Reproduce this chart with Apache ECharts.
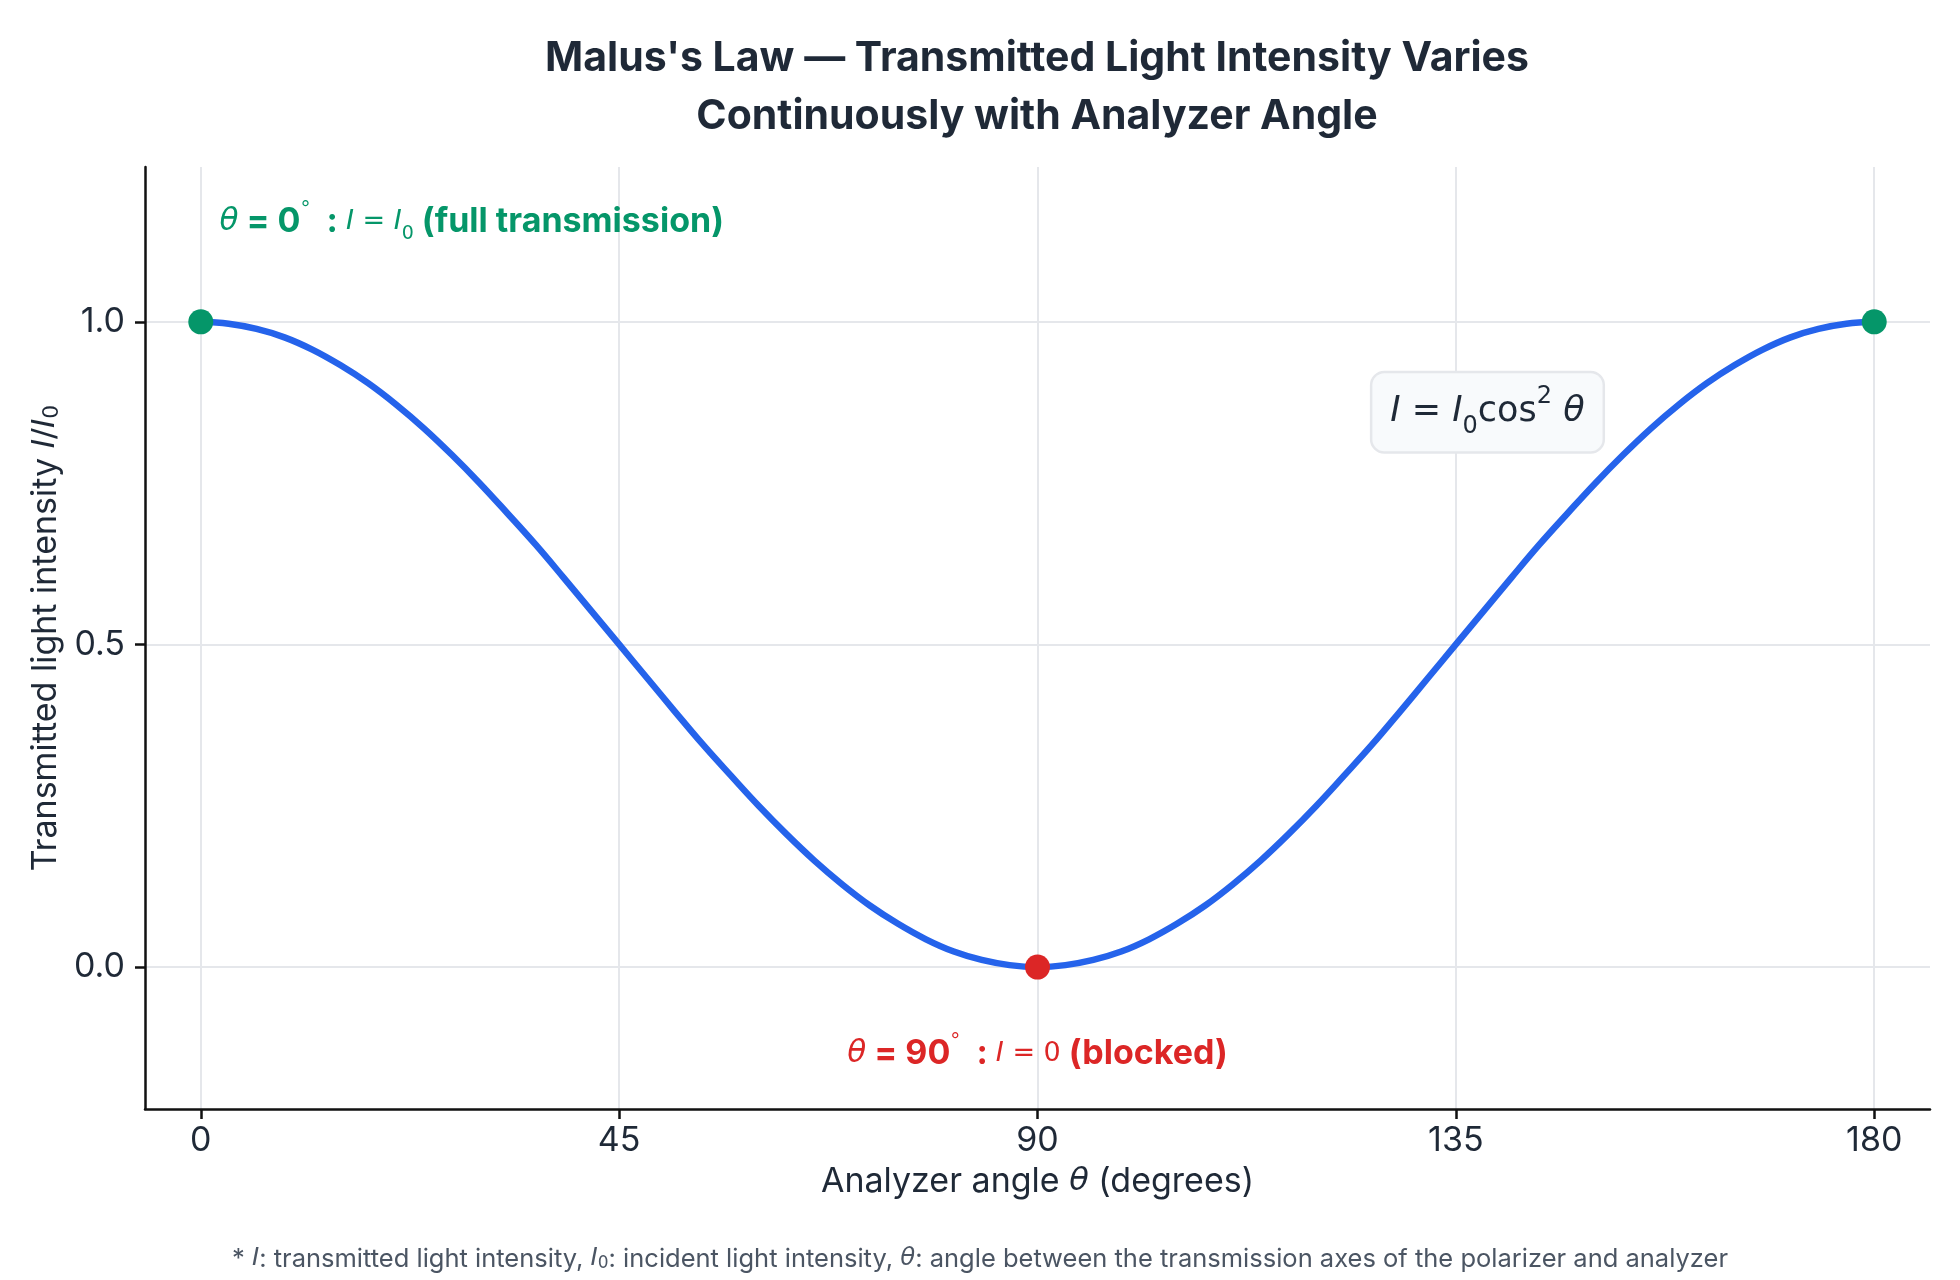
<!DOCTYPE html>
<html lang="en">
<head>
<meta charset="UTF-8">
<title>Malus's Law</title>
<script src="https://cdn.jsdelivr.net/npm/echarts@6.0.0/dist/echarts.min.js"></script>
<style>
	html,body{margin:0;height:100%;background:#fff;}
	#chart{width:1960px;height:1280px;}
</style>
</head>
<body>
<div id="chart"></div>
<script>
// values, every 3 degrees
var angles = [0,3,6,9,12,15,18,21,24,27,30,33,36,39,42,45,48,51,54,57,60,63,66,69,72,75,78,81,84,87,90,
	93,96,99,102,105,108,111,114,117,120,123,126,129,132,135,138,141,144,147,150,153,156,159,162,165,168,171,174,177,180];
var intensity = [1.000,0.997,0.989,0.976,0.957,0.933,0.905,0.872,0.835,0.794,0.750,0.703,0.655,0.604,0.552,0.500,
	0.448,0.396,0.345,0.297,0.250,0.206,0.165,0.128,0.095,0.067,0.043,0.024,0.011,0.003,0.000,
	0.003,0.011,0.024,0.043,0.067,0.095,0.128,0.165,0.206,0.250,0.297,0.345,0.396,0.448,0.500,
	0.552,0.604,0.655,0.703,0.750,0.794,0.835,0.872,0.905,0.933,0.957,0.976,0.989,0.997,1.000];

var xTicks = [0,45,90,135,180];
var yTicks = [0,0.5,1.0];

// highlighted points
var keyAngles = [0,90,180];
var keyValues = [1,0,1];
var keyColors = ['#059669','#dc2626','#059669'];

var TEXT = '#1f2937';
var GRID = '#e5e7eb';
var AXIS = '#111111';
var FONT = 'Inter, "Noto Sans", sans-serif';
var MATH = '"DejaVu Sans", sans-serif';

var curve = angles.map(function(a,i){ return [a, intensity[i]]; });
var keyPts = keyAngles.map(function(a,i){
	return {value:[a, keyValues[i]], itemStyle:{color:keyColors[i], opacity:1}};
});

var chart = echarts.init(document.getElementById('chart'));

var option = {
	animation:false,
	backgroundColor:'#fff',
	grid:{left:145, right:30, top:167, bottom:171, containLabel:false},
	xAxis:{
		type:'value', min:-6, max:186,
		name:'Analyzer angle {i|θ} (degrees)',
		nameLocation:'middle', nameGap:56,
		nameTextStyle:{fontFamily:FONT, fontSize:34, color:TEXT,
			rich:{i:{fontFamily:MATH, fontStyle:'italic', fontSize:32, color:TEXT}}},
		axisLine:{onZero:false, lineStyle:{color:AXIS, width:2.5}},
		axisTick:{show:true, length:10, customValues:xTicks, lineStyle:{color:AXIS, width:2.5}},
		axisLabel:{customValues:xTicks, fontFamily:FONT, fontSize:34, color:TEXT, margin:15},
		splitLine:{show:true, lineStyle:{color:GRID, width:2}}
	},
	yAxis:{
		type:'value', min:-0.22, max:1.24,
		name:'Transmitted light intensity {i|I}{n|/}{i|I}{sub|0}',
		nameLocation:'middle', nameGap:80, nameRotate:90,
		nameTextStyle:{fontFamily:FONT, fontSize:34, color:TEXT,
			rich:{
				i:{fontFamily:MATH, fontStyle:'italic', fontSize:32, color:TEXT},
				n:{fontFamily:MATH, fontSize:32, color:TEXT},
				sub:{fontFamily:MATH, fontSize:22, color:TEXT, verticalAlign:'bottom', lineHeight:30}
			}},
		axisLine:{show:true, onZero:false, lineStyle:{color:AXIS, width:2.5}},
		axisTick:{show:true, length:10, customValues:yTicks, lineStyle:{color:AXIS, width:2.5}},
		axisLabel:{customValues:yTicks, fontFamily:FONT, fontSize:34, color:TEXT, margin:20,
			formatter:function(v){ return v.toFixed(1); }},
		splitLine:{show:true, lineStyle:{color:GRID, width:2}}
	},
	series:[
		{
			type:'line', data:curve, smooth:0.4, symbol:'none', z:3,
			lineStyle:{color:'#2563eb', width:6.5, cap:'round', join:'round'}
		},
		{
			type:'scatter', data:keyPts, symbolSize:25, z:5
		}
	]
};
chart.setOption(option);

function px(x,y){ return chart.convertToPixel({gridIndex:0}, [x,y]); }

var pGreen = px(2.0, 1.155);
var pRed = px(90, -0.135);
var pBox = px(138.4, 0.86);

function noteRich(color){
	return {
		t:{fontFamily:MATH, fontStyle:'italic', fontSize:31, fill:color},
		b:{fontFamily:FONT, fontWeight:'bold', fontSize:34, fill:color},
		s:{fontFamily:MATH, fontSize:20, fill:color, verticalAlign:'top', lineHeight:44},
		mi:{fontFamily:MATH, fontStyle:'italic', fontSize:27, fill:color},
		m:{fontFamily:MATH, fontSize:27, fill:color},
		ms:{fontFamily:MATH, fontSize:19, fill:color, verticalAlign:'bottom', lineHeight:30}
	};
}

chart.setOption({
	graphic:[
		{
			type:'text', x:1037, y:88, silent:true,
			style:{
				text:"Malus's Law — Transmitted Light Intensity Varies\nContinuously with Analyzer Angle",
				fontFamily:FONT, fontSize:41, fontWeight:'bold', fill:TEXT,
				align:'center', verticalAlign:'middle', lineHeight:58
			}
		},
		{
			type:'text', x:pGreen[0], y:pGreen[1], silent:true,
			style:{
				text:'{t|θ}{b| = 0}{s|°}{b|  : }{mi|I}{m| = }{mi|I}{ms|0}{b| (full transmission)}',
				align:'left', verticalAlign:'middle',
				rich:noteRich('#059669')
			}
		},
		{
			type:'text', x:pRed[0], y:pRed[1], silent:true,
			style:{
				text:'{t|θ}{b| = 90}{s|°}{b|  : }{mi|I}{m| = 0}{b| (blocked)}',
				align:'center', verticalAlign:'middle',
				rich:noteRich('#dc2626')
			}
		},
		{
			type:'text', x:pBox[0], y:pBox[1], silent:true, z:10,
			style:{
				text:'{i|I} = {i|I}{sub|0}cos{sup|2} {i|θ}',
				fontFamily:MATH, fontSize:35, fill:TEXT,
				align:'center', verticalAlign:'middle',
				backgroundColor:'#f8fafc', borderColor:GRID, borderWidth:2.5, borderRadius:12,
				padding:[12,18,12,18],
				rich:{
					i:{fontFamily:MATH, fontStyle:'italic', fontSize:35, fill:TEXT},
					sub:{fontFamily:MATH, fontSize:24, fill:TEXT, verticalAlign:'bottom', lineHeight:32},
					sup:{fontFamily:MATH, fontSize:24, fill:TEXT, verticalAlign:'top', lineHeight:54}
				}
			}
		},
		{
			type:'text', x:980, y:1259, silent:true,
			style:{
				text:'* {i|I}: transmitted light intensity, {i|I}{sub|0}: incident light intensity, {i|θ}: angle between the transmission axes of the polarizer and analyzer',
				fontFamily:FONT, fontSize:25.5, fill:'#4b5563',
				align:'center', verticalAlign:'middle',
				rich:{
					i:{fontFamily:MATH, fontStyle:'italic', fontSize:24.5, fill:'#4b5563'},
					sub:{fontFamily:MATH, fontSize:17, fill:'#4b5563', verticalAlign:'bottom', lineHeight:26}
				}
			}
		}
	]
});
</script>
</body>
</html>
